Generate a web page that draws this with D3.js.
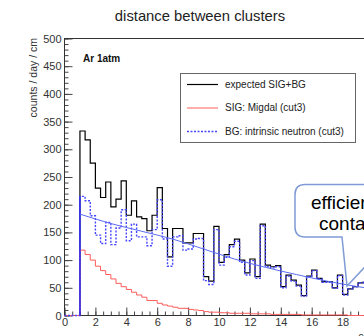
<!DOCTYPE html>
<html>
<head>
<meta charset="utf-8">
<script src="https://cdn.jsdelivr.net/npm/d3@7"></script>
<style>
body { margin: 0; background: #fff; }
svg { display: block; font-family: "Liberation Sans", Arial, Helvetica, sans-serif; }
</style>
</head>
<body>
<div id="chart"></div>
<script>
// bins of 1/3 cm starting at 0
var binWidth = 1 / 3;

var expected = [0, 0, 0,
	333, 317, 275, 230, 213, 241, 196, 210, 243, 181,
	207, 178, 175, 153, 181, 231, 157, 106, 157, 157,
	131, 131, 148, 148, 70, 62, 161, 96, 110, 128,
	138, 100, 77, 102, 70, 165, 91, 88, 90, 52,
	73, 64, 55, 36, 71, 82, 67, 61, 61, 50,
	73, 38, 48, 52, 59, 60, 55];

var sig = [0, 0, 0,
	118, 110, 100, 89, 81, 74, 66, 58, 52, 47,
	42, 37, 33, 27, 27, 22, 19, 17, 15, 13,
	13, 11, 10, 9, 7, 6, 6, 5, 5, 4,
	4, 4, 4, 3, 3, 3, 3, 2, 2, 2,
	2, 2, 2, 1, 1, 1, 1, 1, 1, 1,
	1, 1, 0, 0, 0, 0, 0];

var bg = [0, 0, 0,
	215, 207, 180, 145, 130, 168, 128, 158, 191, 135,
	165, 142, 142, 126, 155, 209, 138, 89, 142, 144,
	118, 120, 138, 139, 63, 56, 155, 91, 105, 124,
	134, 96, 73, 99, 67, 162, 88, 86, 88, 50,
	71, 62, 53, 35, 70, 81, 66, 60, 60, 49,
	72, 37, 48, 52, 59, 60, 55];

// fitted BG curve
var fitX = [1, 3, 5, 7, 9, 11, 13, 15, 17, 19, 20];
var fitY = [183, 166, 152, 138, 120, 102, 87, 74, 62, 52, 48];

var xTickLabels = [0, 2, 4, 6, 8, 10, 12, 14, 16, 18];
var yTickLabels = [0, 50, 100, 150, 200, 250, 300, 350, 400, 450, 500];
var legendLabels = ["expected SIG+BG", "SIG: Migdal (cut3)", "BG: intrinsic neutron (cut3)"];
var legendColors = ["#000", "#ff5c5c", "#4646ff"];

var w = 364;
var h = 336;

var xscale = d3.scaleLinear()
	.domain([0, 20])
	.range([64.5, 373.5]);

var yscale = d3.scaleLinear()
	.domain([0, 500])
	.range([315.5, 38.5]);

var svg = d3.select("#chart")
	.append("svg")
	.attr("width", w)
	.attr("height", h)
	.style("overflow", "hidden");

// title
svg.append("text")
	.attr("x", 200)
	.attr("y", 21)
	.attr("text-anchor", "middle")
	.attr("font-size", "14.8px")
	.attr("fill", "#222")
	.text("distance between clusters");

// minor + major ticks (pointing inward)
var yMinor = d3.range(0, 501, 10);
var xMinor = d3.range(0, 20.01, 0.5);

svg.append("g")
	.attr("transform", "translate(64.5,0)")
	.call(d3.axisLeft(yscale).tickValues(yMinor).tickSize(-4).tickFormat(""))
	.call(function(g) { g.select(".domain").remove(); })
	.selectAll("line").attr("stroke", "#444");

svg.append("g")
	.attr("class", "y axis")
	.attr("transform", "translate(64.5,0)")
	.call(d3.axisLeft(yscale).tickValues(yTickLabels).tickSize(-8).tickPadding(3))
	.call(function(g) { g.select(".domain").remove(); });

svg.append("g")
	.attr("transform", "translate(0,315.5)")
	.call(d3.axisBottom(xscale).tickValues(xMinor).tickSize(-4).tickFormat(""))
	.call(function(g) { g.select(".domain").remove(); })
	.selectAll("line").attr("stroke", "#444");

svg.append("g")
	.attr("class", "x axis")
	.attr("transform", "translate(0,315.5)")
	.call(d3.axisBottom(xscale).tickValues(xTickLabels).tickSize(-8).tickPadding(3))
	.call(function(g) { g.select(".domain").remove(); });

svg.selectAll(".axis text")
	.attr("font-family", "Liberation Sans, Arial, sans-serif")
	.attr("font-size", "11px")
	.attr("fill", "#333");
svg.selectAll(".axis line").attr("stroke", "#444");

// frame
svg.append("rect")
	.attr("x", xscale(0))
	.attr("y", yscale(500))
	.attr("width", xscale(20) - xscale(0))
	.attr("height", yscale(0) - yscale(500))
	.attr("fill", "none")
	.attr("stroke", "#333");

// axis titles
svg.append("text")
	.attr("transform", "translate(37,38) rotate(-90)")
	.attr("text-anchor", "end")
	.attr("font-size", "10.5px")
	.attr("fill", "#333")
	.text("counts / day / cm");

svg.append("text")
	.attr("x", 373)
	.attr("y", 340)
	.attr("text-anchor", "end")
	.attr("font-size", "11px")
	.attr("fill", "#333")
	.text("cm");

// histograms
function histPoints(arr) {
	var pts = arr.map(function(d, i) { return [i * binWidth, d]; });
	pts.push([arr.length * binWidth, arr[arr.length - 1]]);
	return pts;
}

var stepLine = d3.line()
	.x(function(d) { return xscale(d[0]); })
	.y(function(d) { return yscale(d[1]); })
	.curve(d3.curveStepAfter);

svg.append("path")
	.attr("d", stepLine(histPoints(expected)))
	.attr("fill", "none")
	.attr("stroke", "#000")
	.attr("stroke-width", 1.2);

svg.append("path")
	.attr("d", stepLine(histPoints(sig)))
	.attr("fill", "none")
	.attr("stroke", "#ff5c5c")
	.attr("stroke-width", 1);

svg.append("path")
	.attr("d", stepLine(histPoints(bg)))
	.attr("fill", "none")
	.attr("stroke", "#4646ff")
	.attr("stroke-width", 1.4)
	.attr("stroke-dasharray", "2,1.5");

// solid blue edge where bg starts
var firstBg = bg.findIndex(function(d) { return d > 0; });
svg.append("line")
	.attr("x1", xscale(firstBg * binWidth))
	.attr("x2", xscale(firstBg * binWidth))
	.attr("y1", yscale(0))
	.attr("y2", yscale(bg[firstBg]))
	.attr("stroke", "#2a2aff")
	.attr("stroke-width", 1.2);

var fitLine = d3.line()
	.x(function(d, i) { return xscale(fitX[i]); })
	.y(function(d) { return yscale(d); })
	.curve(d3.curveMonotoneX);

svg.append("path")
	.attr("d", fitLine(fitY))
	.attr("fill", "none")
	.attr("stroke", "#5b6cf5")
	.attr("stroke-width", 1);

// label
svg.append("text")
	.attr("x", 83)
	.attr("y", 62)
	.attr("font-size", "10px")
	.attr("font-weight", "bold")
	.attr("fill", "#111")
	.text("Ar 1atm");

// legend
var legend = svg.append("g");
legend.append("rect")
	.attr("x", 180.5)
	.attr("y", 73.5)
	.attr("width", 175)
	.attr("height", 69)
	.attr("fill", "#fff")
	.attr("stroke", "#666");

var rows = legend.selectAll("g.row")
	.data(legendLabels)
	.enter()
	.append("g")
	.attr("class", "row")
	.attr("transform", function(d, i) { return "translate(0," + [84, 107.5, 131][i] + ")"; });

rows.append("line")
	.attr("x1", 187)
	.attr("x2", 218)
	.attr("y1", 0.5)
	.attr("y2", 0.5)
	.attr("stroke", function(d, i) { return legendColors[i]; })
	.attr("stroke-width", function(d, i) { return i == 0 ? 1.2 : (i == 2 ? 1.4 : 1); })
	.attr("stroke-dasharray", function(d, i) { return i == 2 ? "2,1.5" : null; });

rows.append("text")
	.attr("x", 225)
	.attr("y", 0)
	.attr("dy", "0.35em")
	.attr("font-size", "10px")
	.attr("fill", "#222")
	.text(function(d) { return d; });

// callout box overlay
svg.append("path")
	.attr("d", "M305,184.5 H430 Q440,184.5 440,194.5 V227 Q440,237 430,237 H393 L347,286 L342,237 H305 Q295,237 295,227 V194.5 Q295,184.5 305,184.5 Z")
	.attr("fill", "#fff")
	.attr("stroke", "#7f9bd6")
	.attr("stroke-width", 1.5);

svg.append("text")
	.attr("x", 311)
	.attr("y", 208.5)
	.attr("font-size", "19px")
	.attr("fill", "#000")
	.text("efficiency");

svg.append("text")
	.attr("x", 319)
	.attr("y", 230)
	.attr("font-size", "19px")
	.attr("fill", "#000")
	.text("contamination");
</script>
</body>
</html>
